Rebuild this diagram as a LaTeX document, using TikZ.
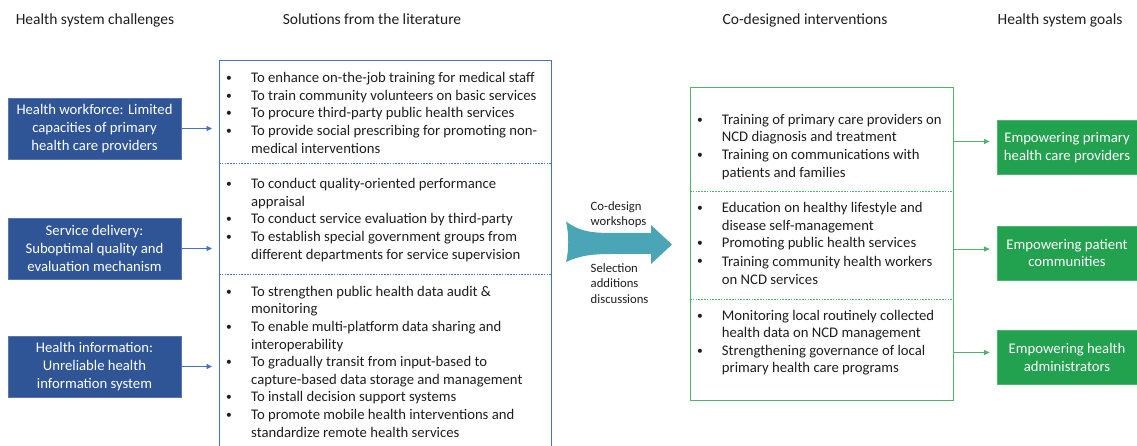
\documentclass[tikz,border=0pt]{standalone}
\usepackage{fontspec}
\setmainfont{Carlito}
\usetikzlibrary{arrows.meta,calc}
\definecolor{challenge}{HTML}{2F5597}
\definecolor{litline}{HTML}{4472C4}
\definecolor{goal}{HTML}{22A14F}
\definecolor{intline}{HTML}{4DB56A}
\definecolor{flow}{HTML}{4AA6B6}
\definecolor{ink}{HTML}{1E1E1E}
\tikzset{
  head/.style={font=\fontsize{15.5}{18.6}\selectfont, text=ink, inner sep=0, anchor=base},
  body/.style={font=\fontsize{14.7}{17.6}\selectfont, text=ink, inner sep=0, anchor=base west},
  bul/.style={font=\fontsize{11.5}{14}\selectfont, text=ink, inner sep=0, anchor=base},
  lab/.style={font=\fontsize{12.7}{15.4}\selectfont, text=ink, inner sep=0, align=left, anchor=west},
  challbox/.style={fill=challenge, draw=challenge!80!white, line width=0.8pt, text=white,
    font=\fontsize{14.7}{17.6}\selectfont, align=center, inner sep=0,
    minimum width=173, minimum height=61},
  goalbox/.style={fill=goal, draw=goal!80!white, line width=0.8pt, text=white,
    font=\fontsize{14.7}{17.8}\selectfont, align=center, inner sep=0,
    minimum width=140, minimum height=54},
  sep/.style={dash pattern=on 1.6pt off 1.2pt, line width=0.6pt},
  bluearrow/.style={draw=litline, line width=0.9pt, -{Triangle[length=5.5pt,width=5pt]}},
  greenarrow/.style={draw=intline, line width=0.9pt, -{Triangle[length=5.5pt,width=5pt]}},
}
\begin{document}
\begin{tikzpicture}[x=1pt,y=-1pt]
\useasboundingbox (0,0) rectangle (1137,446);
\clip (0,0) rectangle (1137,446);

% column headings
\node[head] (h1) at (95,25) {Health system challenges};
\node[head] (h2) at (372,25) {Solutions from the literature};
\node[head] (h3) at (805,25) {Co-designed interventions};
\node[head] (h4) at (1060,25) {Health system goals};

% challenges
\node[challbox] (b1) at (94.5,128.5) {Health workforce: Limited\\capacities of primary\\health care providers};
\node[challbox] (b2) at (94.5,248.5) {Service delivery:\\Suboptimal quality and\\evaluation mechanism};
\node[challbox] (b3) at (94.5,366.5) {Health information:\\Unreliable health\\information system};

% solutions from the literature
\node[draw=litline, line width=0.9pt, anchor=north west, inner sep=0,
      minimum width=331.5, minimum height=420] (sol) at (219,60) {};
\draw[litline, sep] (219,163) -- (550.5,163);
\draw[litline, sep] (219,274) -- (550.5,274);
\foreach \y/\t [count=\i] in {
  78.3/To enhance on-the-job training for medical staff,
  95.9/To train community volunteers on basic services,
  113.5/To procure third-party public health services,
  131.1/To provide social prescribing for promoting non-,
  148.7/medical interventions,
  184.3/To conduct quality-oriented performance,
  201.9/appraisal,
  219.5/To conduct service evaluation by third-party,
  237.1/To establish special government groups from,
  254.7/different departments for service supervision,
  291.7/To strengthen public health data audit \&,
  309.3/monitoring,
  326.9/To enable multi-platform data sharing and,
  344.5/interoperability,
  362.1/To gradually transit from input-based to,
  379.7/capture-based data storage and management,
  397.3/To install decision support systems,
  414.9/To promote mobile health interventions and,
  432.5/standardize remote health services}
  \node[body] (s\i) at (251,\y+4.5) {\t};
\foreach \y [count=\i] in {78.3,95.9,113.5,131.1,184.3,219.5,237.1,291.7,326.9,362.1,397.3,414.9}
  \node[bul] (sb\i) at (229,\y+3.5) {•};

% challenge arrows
\foreach \k in {1,2,3}
  \draw[bluearrow, shorten >=7pt] (b\k.east) -- (b\k.east -| sol.west);

% co-design arrow
\fill[flow] (566,221.5) .. controls (579,231) and (590,233) .. (612,233)
  -- (651,233) -- (651,225) -- (672,244.5) -- (651,264) -- (651,254) -- (612,254)
  .. controls (590,254) and (579,256) .. (566,262)
  .. controls (569,250) and (569,234) .. (566,221.5) -- cycle;
\node[lab] (cd) at (590.5,214.5) {Co-design\\workshops};
\node[lab] (sel) at (590.5,283.3) {Selection\\additions\\discussions};

% co-designed interventions
\node[draw=intline, line width=1.1pt, anchor=north west, inner sep=0,
      minimum width=263, minimum height=313] (int) at (690,87) {};
\draw[intline, sep] (690,191) -- (953,191);
\draw[intline, sep] (690,299) -- (953,299);
\foreach \y/\t [count=\i] in {
  120/Training of primary care providers on,
  137.5/NCD diagnosis and treatment,
  155.3/Training on communications with,
  172.8/patients and families,
  208.3/Education on healthy lifestyle and,
  225.8/disease self-management,
  243.3/Promoting public health services,
  261.5/Training community health workers,
  279.5/on NCD services,
  315.7/Monitoring local routinely collected,
  333.2/health data on NCD management,
  350.7/Strengthening governance of local,
  368.3/primary health care programs}
  \node[body] (r\i) at (721.7,\y+4.5) {\t};
\foreach \y [count=\i] in {120,155.3,208.3,243.3,261.5,315.7,350.7}
  \node[bul] (rb\i) at (700,\y+3.5) {•};

% goals
\node[goalbox] (g1) at (1067,147.5) {Empowering primary\\health care providers};
\node[goalbox] (g2) at (1067,253) {Empowering patient\\communities};
\node[goalbox] (g3) at (1067,357.5) {Empowering health\\administrators};

\coordinate (ga1) at (0,141.5);
\coordinate (ga2) at (0,249);
\coordinate (ga3) at (0,352.5);
\foreach \k in {1,2,3}
  \draw[greenarrow, shorten >=7pt] (int.east |- ga\k) -- (g\k.west |- ga\k);
\end{tikzpicture}
\end{document}
